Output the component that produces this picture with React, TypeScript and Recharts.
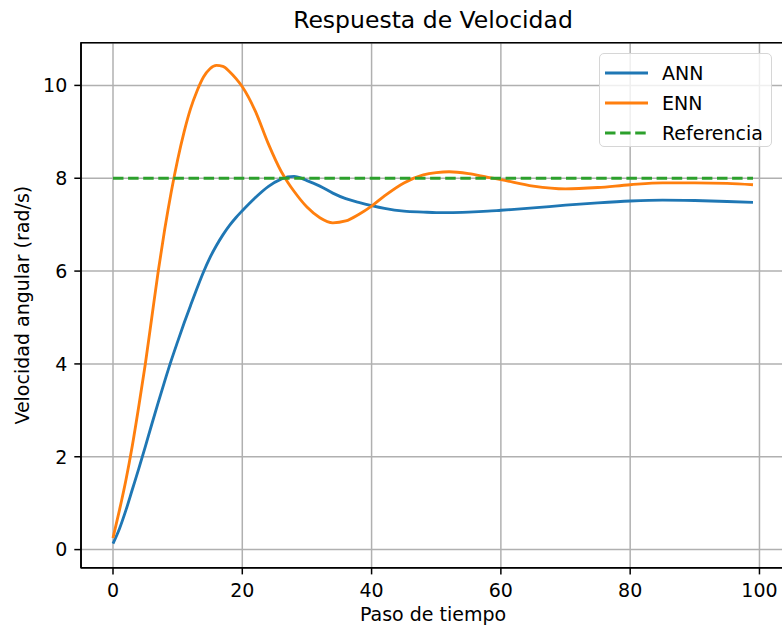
import { LineChart, Line, XAxis, YAxis, CartesianGrid, Legend, ReferenceArea } from 'recharts';

// paso de tiempo (muestras)
const steps = [0, 1, 2, 3, 4, 5, 6, 7, 8, 9, 10, 11, 12, 13, 14, 15, 16, 17, 18, 19, 20, 22, 24, 26, 27, 28, 30, 32, 34, 36, 38, 40, 42, 45, 48, 50, 52, 55, 58, 60, 65, 70, 75, 80, 85, 90, 95, 99];
const ann = [0.13, 0.45, 0.85, 1.3, 1.75, 2.22, 2.7, 3.17, 3.63, 4.07, 4.48, 4.88, 5.26, 5.63, 5.98, 6.29, 6.55, 6.78, 6.98, 7.15, 7.3, 7.58, 7.82, 7.98, 8.03, 8.04, 7.95, 7.83, 7.68, 7.56, 7.48, 7.41, 7.35, 7.29, 7.27, 7.26, 7.26, 7.27, 7.29, 7.31, 7.36, 7.42, 7.47, 7.51, 7.53, 7.52, 7.5, 7.48];
const enn = [0.25, 0.85, 1.5, 2.25, 3.1, 4.0, 5.0, 6.0, 6.9, 7.7, 8.4, 9.0, 9.5, 9.88, 10.18, 10.36, 10.43, 10.41, 10.3, 10.15, 9.97, 9.45, 8.75, 8.15, 7.92, 7.72, 7.38, 7.15, 7.04, 7.08, 7.22, 7.4, 7.62, 7.9, 8.07, 8.12, 8.14, 8.1, 8.02, 7.97, 7.83, 7.77, 7.8, 7.86, 7.9, 7.9, 7.89, 7.86];
const referencia = 8;

const xTicks = [0, 20, 40, 60, 80, 100];
const yTicks = [0, 2, 4, 6, 8, 10];
const xDomain = [-4.95, 103.95];
const yDomain = [-0.39, 10.92];

const data = steps.map((t, i) => ({ t, ANN: ann[i], ENN: enn[i], Referencia: referencia }));

const font = 'DejaVu Sans, sans-serif';
const tickStyle = { fill: '#000', fontSize: 19, fontFamily: font };

function renderLegend(props: any) {
  const { payload } = props;
  return (
    <div
      style={{
        width: 173,
        height: 94,
        border: '1.5px solid #d6d6d6',
        borderRadius: 5,
        background: 'rgba(255,255,255,0.8)',
        boxSizing: 'border-box',
        paddingTop: 4,
      }}
    >
      {payload.map((p: any) => (
        <div key={p.value} style={{ display: 'flex', alignItems: 'center', height: 30 }}>
          <svg width={56} height={10} style={{ marginLeft: 5 }}>
            <line
              x1={0}
              x2={43}
              y1={5}
              y2={5}
              stroke={p.color}
              strokeWidth={2.85}
              strokeDasharray={p.payload?.strokeDasharray}
            />
          </svg>
          <span style={{ fontFamily: font, fontSize: 19, color: '#000', marginLeft: 1 }}>{p.value}</span>
        </div>
      ))}
    </div>
  );
}

export default function App() {
  return (
    <div style={{ position: 'fixed', left: 0, top: 0, width: 782, height: 629, overflow: 'hidden', background: '#fff' }}>
      <div
        style={{
          position: 'absolute',
          left: 81,
          width: 704,
          top: 9,
          textAlign: 'center',
          fontFamily: font,
          fontSize: 23.5,
          lineHeight: 1,
          color: '#000',
        }}
      >
        Respuesta de Velocidad
      </div>
      <LineChart width={790} height={629} data={data} margin={{ top: 42.7, right: 5, left: 0, bottom: 0 }}>
        <CartesianGrid stroke="#b0b0b0" strokeWidth={1.5} />
        <XAxis
          dataKey="t"
          type="number"
          domain={xDomain}
          ticks={xTicks}
          allowDataOverflow
          height={61.3}
          tick={tickStyle}
          tickSize={6.7}
          tickMargin={9}
          tickLine={{ stroke: '#000', strokeWidth: 1.5 }}
          axisLine={{ stroke: '#000', strokeWidth: 1.5 }}
          label={{ value: 'Paso de tiempo', position: 'insideBottom', offset: 8, style: { ...tickStyle } }}
        />
        <YAxis
          type="number"
          domain={yDomain}
          ticks={yTicks}
          allowDataOverflow
          width={81}
          tick={tickStyle}
          tickSize={6.7}
          tickMargin={7}
          tickLine={{ stroke: '#000', strokeWidth: 1.5 }}
          axisLine={{ stroke: '#000', strokeWidth: 1.5 }}
          label={{
            value: 'Velocidad angular (rad/s)',
            angle: -90,
            position: 'insideLeft',
            offset: 22,
            style: { ...tickStyle, textAnchor: 'middle' },
          }}
        />
        <ReferenceArea
          x1={xDomain[0]}
          x2={xDomain[1]}
          y1={yDomain[0]}
          y2={yDomain[1]}
          fill="none"
          fillOpacity={0}
          stroke="#000"
          strokeWidth={1.5}
        />
        <Line type="monotone" dataKey="ANN" stroke="#1f77b4" strokeWidth={2.85} dot={false} isAnimationActive={false} />
        <Line type="monotone" dataKey="ENN" stroke="#ff7f0e" strokeWidth={2.85} dot={false} isAnimationActive={false} />
        <Line
          type="linear"
          dataKey="Referencia"
          stroke="#2ca02c"
          strokeWidth={2.85}
          strokeDasharray="10.5 4.6"
          dot={false}
          isAnimationActive={false}
        />
        <Legend
          layout="vertical"
          align="center"
          verticalAlign="middle"
          content={renderLegend}
          wrapperStyle={{ position: 'absolute', left: 599, top: 53, width: 173 }}
        />
      </LineChart>
    </div>
  );
}
